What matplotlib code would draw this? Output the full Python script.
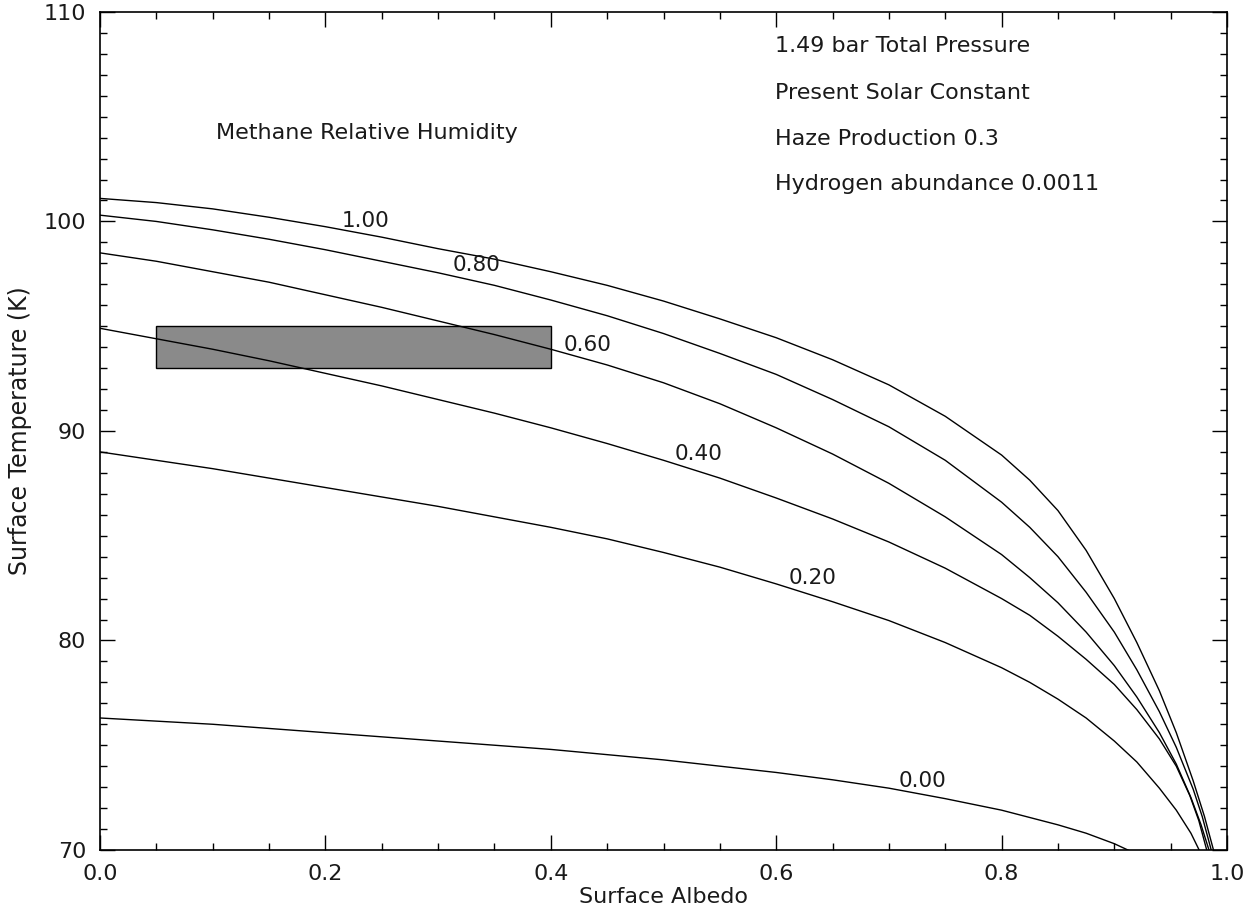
import numpy as np
import matplotlib.pyplot as plt
from matplotlib.patches import Rectangle
from matplotlib.ticker import MultipleLocator

plt.rcParams["font.family"] = ["DejaVu Sans"]

# 读图得到的曲线数据：地表反照率 -> 地表温度 (K)
rh_labels = ["1.00", "0.80", "0.60", "0.40", "0.20", "0.00"]

albedo_100 = [0, 0.05, 0.1, 0.15, 0.2, 0.25, 0.3, 0.35, 0.4, 0.45, 0.5, 0.55, 0.6, 0.65, 0.7,
              0.75, 0.8, 0.825, 0.85, 0.875, 0.9, 0.92, 0.94, 0.955, 0.97, 0.98, 0.988]
temp_100 = [101.1, 100.9, 100.6, 100.2, 99.75, 99.25, 98.7, 98.2, 97.6, 96.95, 96.2, 95.35, 94.45,
            93.4, 92.2, 90.7, 88.85, 87.65, 86.2, 84.3, 82.0, 79.9, 77.6, 75.6, 73.3, 71.6, 70.0]

albedo_080 = [0, 0.05, 0.1, 0.15, 0.2, 0.25, 0.3, 0.35, 0.4, 0.45, 0.5, 0.55, 0.6, 0.65, 0.7,
              0.75, 0.8, 0.825, 0.85, 0.875, 0.9, 0.92, 0.94, 0.955, 0.97, 0.978, 0.986]
temp_080 = [100.3, 100.0, 99.6, 99.15, 98.65, 98.1, 97.55, 96.95, 96.25, 95.5, 94.65, 93.7, 92.7,
            91.5, 90.2, 88.6, 86.6, 85.4, 84.0, 82.3, 80.4, 78.6, 76.6, 74.9, 72.9, 71.6, 70.0]

albedo_060 = [0, 0.05, 0.1, 0.15, 0.2, 0.25, 0.3, 0.35, 0.4, 0.45, 0.5, 0.55, 0.6, 0.65, 0.7,
              0.75, 0.8, 0.825, 0.85, 0.875, 0.9, 0.92, 0.94, 0.955, 0.968, 0.977, 0.984]
temp_060 = [98.5, 98.1, 97.6, 97.1, 96.5, 95.9, 95.25, 94.6, 93.9, 93.15, 92.3, 91.3, 90.15,
            88.9, 87.5, 85.9, 84.1, 83.0, 81.8, 80.4, 78.8, 77.3, 75.6, 74.1, 72.5, 71.2, 70.0]

albedo_040 = [0, 0.05, 0.1, 0.15, 0.2, 0.25, 0.3, 0.35, 0.4, 0.45, 0.5, 0.55, 0.6, 0.65, 0.7,
              0.75, 0.8, 0.825, 0.85, 0.875, 0.9, 0.92, 0.94, 0.955, 0.967, 0.975, 0.982]
temp_040 = [94.9, 94.4, 93.9, 93.35, 92.75, 92.15, 91.5, 90.85, 90.15, 89.4, 88.6, 87.75, 86.8,
            85.8, 84.7, 83.45, 82.0, 81.2, 80.2, 79.1, 77.9, 76.7, 75.3, 74.0, 72.6, 71.4, 70.0]

albedo_020 = [0, 0.05, 0.1, 0.15, 0.2, 0.25, 0.3, 0.35, 0.4, 0.45, 0.5, 0.55, 0.6, 0.65, 0.7,
              0.75, 0.8, 0.825, 0.85, 0.875, 0.9, 0.92, 0.94, 0.955, 0.968, 0.978]
temp_020 = [89.0, 88.6, 88.2, 87.75, 87.3, 86.85, 86.4, 85.9, 85.4, 84.85, 84.2, 83.5, 82.7,
            81.85, 80.95, 79.9, 78.7, 78.0, 77.2, 76.3, 75.2, 74.2, 72.95, 71.9, 70.8, 69.7]

albedo_000 = [0, 0.05, 0.1, 0.15, 0.2, 0.25, 0.3, 0.35, 0.4, 0.45, 0.5, 0.55, 0.6, 0.65, 0.7,
              0.75, 0.8, 0.85, 0.875, 0.9, 0.92]
temp_000 = [76.3, 76.15, 76.0, 75.8, 75.6, 75.4, 75.2, 75.0, 74.8, 74.55, 74.3, 74.0, 73.7,
            73.35, 72.95, 72.45, 71.9, 71.2, 70.8, 70.3, 69.8]

# 曲线标注位置（反照率, 温度）
label_x = [0.236, 0.3345, 0.433, 0.531, 0.632, 0.730]
label_y = [100.0, 97.9, 94.1, 88.9, 83.0, 73.3]

# 观测范围方框
box_albedo = [0.05, 0.40]
box_temp = [93.0, 95.0]

info_lines = ["1.49 bar Total Pressure", "Present Solar Constant",
              "Haze Production 0.3", "Hydrogen abundance 0.0011"]
info_y = [108.37, 106.15, 103.94, 101.78]

curves = [(albedo_100, temp_100), (albedo_080, temp_080), (albedo_060, temp_060),
          (albedo_040, temp_040), (albedo_020, temp_020), (albedo_000, temp_000)]

fig = plt.figure(figsize=(12.5, 9.18), dpi=100)
ax = fig.add_axes([0.08, 0.0741, 0.9016, 0.9129])

txt_color = "#1a1a1a"
fs = 16

# 方框
ax.add_patch(Rectangle((box_albedo[0], box_temp[0]),
                       box_albedo[1] - box_albedo[0], box_temp[1] - box_temp[0],
                       facecolor="#8a8a8a", edgecolor="black", linewidth=1.0, zorder=1))

for (xs, ys), lab, lx, ly in zip(curves, rh_labels, label_x, label_y):
    ax.plot(xs, ys, color="black", linewidth=1.0, zorder=2)
    ax.text(lx, ly, lab, fontsize=15.5, ha="center", va="center", color=txt_color)

ax.text(0.103, 104.2, "Methane Relative Humidity", fontsize=fs, ha="left",
        va="center", color=txt_color)
for line, y in zip(info_lines, info_y):
    ax.text(0.599, y, line, fontsize=fs, ha="left", va="center", color=txt_color)

ax.set_xlim(0, 1)
ax.set_ylim(70, 110)
ax.xaxis.set_major_locator(MultipleLocator(0.2))
ax.xaxis.set_minor_locator(MultipleLocator(0.05))
ax.yaxis.set_major_locator(MultipleLocator(10))
ax.yaxis.set_minor_locator(MultipleLocator(1))
ax.xaxis.set_major_formatter(plt.FuncFormatter(lambda v, p: f"{v:.1f}"))
ax.tick_params(which="both", direction="in", top=True, right=True,
               labelsize=fs, labelcolor=txt_color, width=1.0)
ax.tick_params(which="major", length=11, pad=10)
ax.tick_params(which="minor", length=5)
for s in ax.spines.values():
    s.set_linewidth(1.2)

ax.set_xlabel("Surface Albedo", fontsize=16, color=txt_color, labelpad=2)
ax.set_ylabel("Surface Temperature (K)", fontsize=17, color=txt_color, labelpad=8)

fig.savefig("out.png", dpi=100)
